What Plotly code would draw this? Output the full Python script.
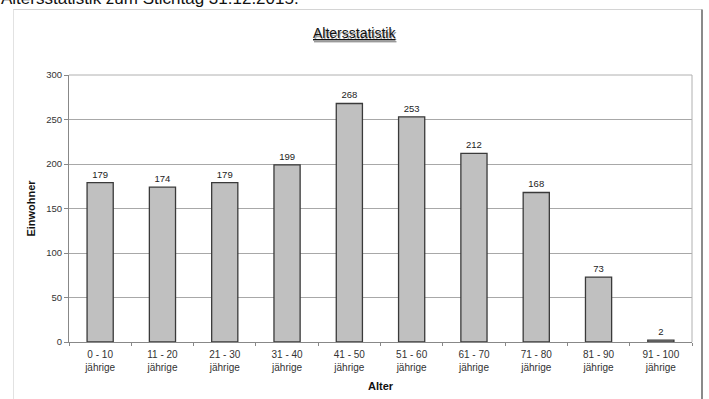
import plotly.graph_objects as go

# Age groups and resident counts
age_groups = ["0 - 10", "11 - 20", "21 - 30", "31 - 40", "41 - 50",
              "51 - 60", "61 - 70", "71 - 80", "81 - 90", "91 - 100"]
residents = [179, 174, 179, 199, 268, 253, 212, 168, 73, 2]
y_ticks = [0, 50, 100, 150, 200, 250, 300]

W, H = 709, 399
ML, MR, MT, MB = 69, 17, 75, 57
PW, PH = W - ML - MR, H - MT - MB


def px_x(px):
    return (px - ML) / PW


def px_y(py):
    return 1 - (py - MT) / PH


labels = [f"{g}<br>jährige" for g in age_groups]

fig = go.Figure(
    go.Bar(
        x=labels,
        y=residents,
        width=0.42,
        marker=dict(color="#c0c0c0", line=dict(color="#3a3a3a", width=1.3)),
        text=[str(v) for v in residents],
        textposition="outside",
        textfont=dict(family="Liberation Sans, Arial", size=9.5, color="#222"),
        cliponaxis=False,
    )
)

fig.update_layout(
    width=W,
    height=H,
    margin=dict(l=ML, r=MR, t=MT, b=MB),
    paper_bgcolor="white",
    plot_bgcolor="white",
    showlegend=False,
    font=dict(family="Liberation Sans, Arial", color="#333"),
)

fig.update_xaxes(
    type="category",
    automargin=False,
    tickson="boundaries",
    ticks="outside",
    ticklen=3,
    tickcolor="#888",
    ticklabelstandoff=3,
    showline=True,
    linecolor="#888",
    linewidth=1,
    mirror=False,
    showgrid=False,
    tickfont=dict(size=10, color="#333"),
    title=dict(text="<b>Alter</b>", font=dict(size=11, color="#111"), standoff=10),
)

fig.update_yaxes(
    range=[0, 300],
    automargin=False,
    tickvals=y_ticks,
    ticks="outside",
    ticklen=4,
    tickcolor="#888",
    showline=True,
    linecolor="#888",
    linewidth=1,
    showgrid=True,
    gridcolor="#a8a8a8",
    gridwidth=1,
    zeroline=False,
    tickfont=dict(size=9.5, color="#333"),
    title=dict(text="<b>Einwohner</b>", font=dict(size=11, color="#111"), standoff=8),
)

# plot area border (top and right)
fig.add_shape(type="line", xref="paper", yref="paper", x0=0, x1=1, y0=1, y1=1,
              line=dict(color="#b0b0b0", width=1))
fig.add_shape(type="line", xref="paper", yref="paper", x0=1, x1=1, y0=0, y1=1,
              line=dict(color="#b0b0b0", width=1))

# outer chart frame
fig.add_shape(type="line", xref="paper", yref="paper",
              x0=px_x(13), x1=px_x(702), y0=px_y(9.5), y1=px_y(9.5),
              line=dict(color="#d4d4d4", width=1))
fig.add_shape(type="line", xref="paper", yref="paper",
              x0=px_x(13.5), x1=px_x(13.5), y0=px_y(9.5), y1=px_y(405),
              line=dict(color="#e2e2e2", width=1))
fig.add_shape(type="line", xref="paper", yref="paper",
              x0=px_x(702), x1=px_x(702), y0=px_y(9.5), y1=px_y(405),
              line=dict(color="#8a8a8a", width=2))

# page heading above the chart frame
fig.add_annotation(
    text="Altersstatistik zum Stichtag 31.12.2015.",
    xref="paper", yref="paper", x=px_x(-1), y=px_y(10),
    xanchor="left", yanchor="bottom", showarrow=False,
    font=dict(family="Liberation Sans, Arial", size=17, color="#111"),
)

# chart title with a soft shadow
for dx, dy, col in [(1, 2, "#9a9a9a"), (0, 0, "#111")]:
    fig.add_annotation(
        text="<u>Altersstatistik</u>",
        xref="paper", yref="paper", x=px_x(354 + dx), y=px_y(33 + dy),
        xanchor="center", yanchor="middle", showarrow=False,
        font=dict(family="Liberation Sans, Arial", size=14, color=col),
    )

fig.write_html("out.html")
